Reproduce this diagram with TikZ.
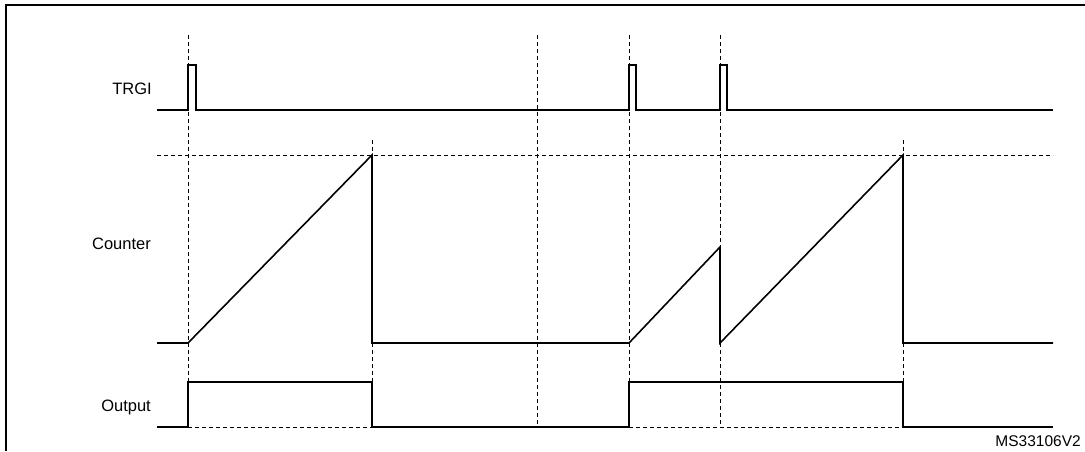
\documentclass[tikz,border=0pt]{standalone}
\usepackage{fontspec}
\setmainfont{Liberation Sans}
\begin{document}
\begin{tikzpicture}[x=1pt,y=-1pt,
  sig/.style={line width=1.6pt, line join=miter},
  guide/.style={line width=0.8pt, dash pattern=on 4pt off 3pt},
  lbl/.style={anchor=base east, font=\fontsize{16.5}{19}\selectfont, inner sep=0pt}]
\useasboundingbox (0,0) rectangle (1085,451);
\draw[line width=2pt] (6,451) -- (6,5) -- (1085,5);
% guides
\foreach \x in {188,537,629,720} \draw[guide] (\x,35) -- (\x,427);
\foreach \x in {372,903} \draw[guide] (\x,140) -- (\x,427);
\draw[guide] (157,155) -- (1053,155);
\draw[guide] (188,427) -- (372,427);
\draw[guide] (629,427) -- (903,427);
% signals
\draw[sig] (157,110) -- (188,110) -- (188,65) -- (196,65) -- (196,110) -- (629,110) -- (629,65) -- (636,65) -- (636,110) -- (720,110) -- (720,65) -- (727,65) -- (727,110) -- (1053,110);
\draw[sig] (157,343) -- (188,343) -- (372,155) -- (372,343) -- (629,343) -- (720,247) -- (720,343) -- (903,155) -- (903,343) -- (1053,343);
\draw[sig] (157,427) -- (188,427) -- (188,382) -- (372,382) -- (372,427) -- (629,427) -- (629,382) -- (903,382) -- (903,427) -- (1053,427);
% labels
\node[lbl] (trgi) at (152,94) {TRGI};
\node[lbl] (cnt) at (151,249) {Counter};
\node[lbl] (out) at (151,411) {Output};
\node[lbl, font=\fontsize{15.5}{18}\selectfont] (ref) at (1081,446) {MS33106V2};
\end{tikzpicture}
\end{document}
